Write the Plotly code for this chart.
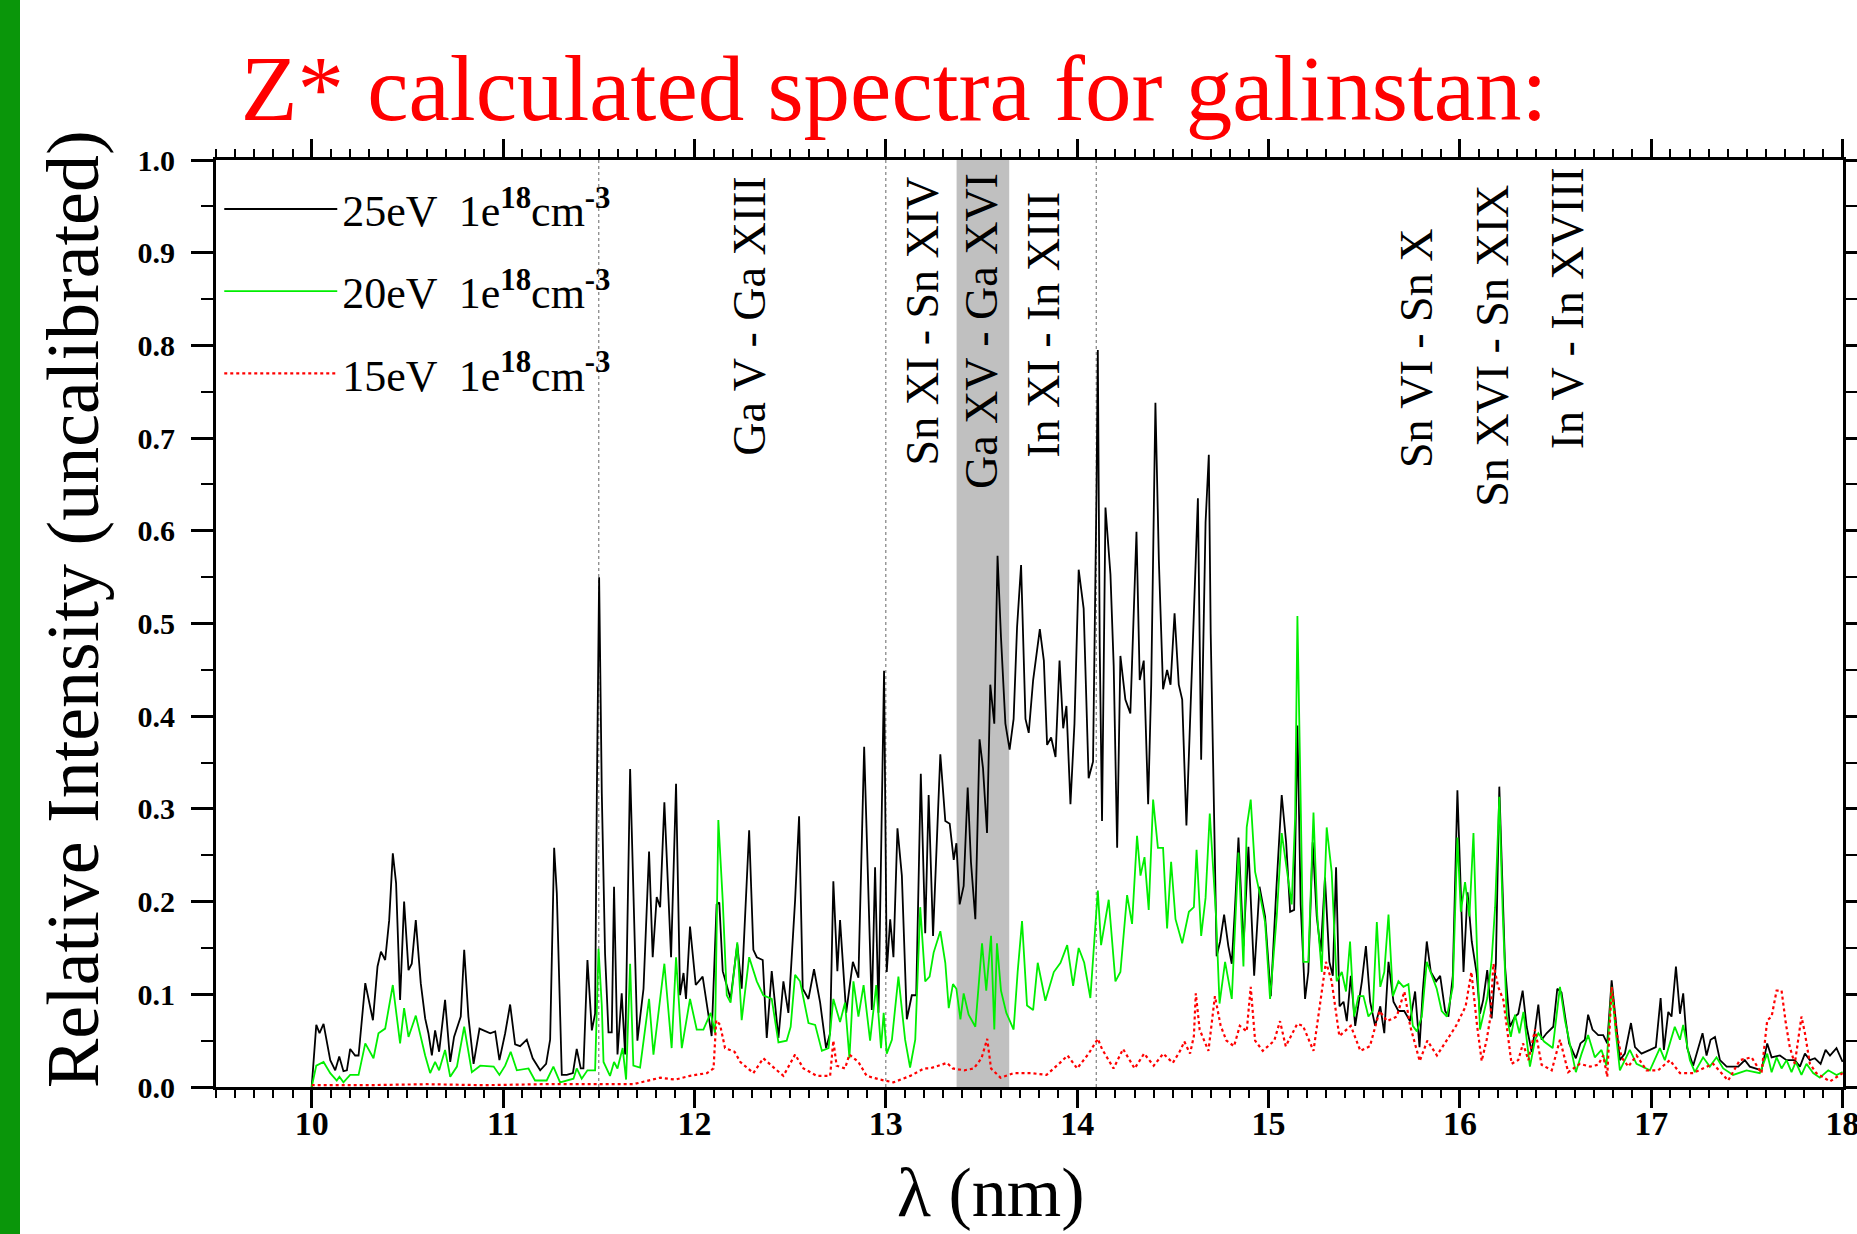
import plotly.graph_objects as go

# ---------------- data ----------------
bk_x = [10.000,10.024,10.041,10.062,10.097,10.123,10.144,10.166,10.184,10.201,10.227,10.245,10.280,10.320,10.344,10.362,10.384,10.405,10.424,10.441,10.462,10.483,10.506,10.523,10.544,10.570,10.593,10.610,10.628,10.645,10.666,10.697,10.724,10.744,10.779,10.797,10.819,10.846,10.877,10.933,10.959,10.981,11.011,11.037,11.063,11.089,11.124,11.155,11.194,11.225,11.246,11.267,11.281,11.307,11.333,11.365,11.385,11.406,11.420,11.441,11.464,11.481,11.490,11.502,11.516,
        11.533,11.551,11.568,11.580,11.598,11.620,11.638,11.664,11.681,11.702,11.734,11.763,11.782,11.803,11.821,11.843,11.878,11.904,11.925,11.943,11.956,11.977,12.007,12.043,12.090,12.116,12.130,12.148,12.189,12.224,12.247,12.286,12.308,12.326,12.357,12.378,12.404,12.439,12.465,12.491,12.526,12.547,12.566,12.596,12.625,12.657,12.688,12.709,12.726,12.747,12.761,12.793,12.828,12.857,12.887,12.909,12.927,12.944,12.962,12.991,
        13.005,13.023,13.040,13.061,13.084,13.110,13.136,13.159,13.183,13.206,13.224,13.247,13.268,13.285,13.311,13.334,13.355,13.369,13.386,13.407,13.428,13.445,13.468,13.490,13.508,13.529,13.546,13.567,13.584,13.602,13.625,13.647,13.668,13.686,13.707,13.730,13.747,13.770,13.805,13.826,13.843,13.864,13.887,13.908,13.927,13.944,13.965,13.986,14.008,14.034,14.060,14.083,14.101,14.108,14.118,14.130,14.148,14.174,14.191,14.209,14.226,14.252,14.278,14.310,14.327,14.348,14.371,14.387,14.409,14.427,14.449,14.470,14.488,14.509,14.531,14.549,14.571,14.592,14.618,14.631,14.648,14.671,14.688,
        14.698,14.712,14.729,14.747,14.768,14.790,14.808,14.825,14.843,14.869,14.895,14.925,14.953,14.982,15.012,15.040,15.069,15.092,15.113,15.134,15.151,15.168,15.191,15.208,15.231,15.252,15.273,15.295,15.318,15.336,15.353,15.371,15.392,15.409,15.430,15.453,15.488,15.509,15.531,15.557,15.584,15.605,15.627,15.653,15.679,15.709,15.740,15.766,15.789,15.806,15.827,15.848,15.876,15.897,15.923,15.940,15.963,15.987,16.001,16.019,16.040,16.062,16.088,
        16.105,16.122,16.143,16.166,16.188,16.206,16.218,16.236,16.261,16.288,16.305,16.328,16.349,16.375,16.393,16.410,16.427,16.453,16.488,16.509,16.531,16.549,16.571,16.606,16.630,16.653,16.670,16.693,16.723,16.749,16.770,16.793,16.810,16.836,16.862,16.894,16.915,16.949,16.993,17.024,17.049,17.066,17.089,17.106,17.129,17.150,17.167,17.188,17.219,17.246,17.268,17.289,17.310,17.333,17.359,17.394,17.455,17.489,17.515,17.576,17.606,17.629,17.672,17.707,17.750,17.777,17.803,17.829,17.855,17.885,17.911,17.934,17.968,18.000]
bk_y = [0.000,0.067,0.058,0.068,0.029,0.018,0.033,0.017,0.018,0.041,0.034,0.034,0.112,0.072,0.130,0.146,0.137,0.180,0.252,0.220,0.094,0.200,0.126,0.133,0.180,0.112,0.074,0.058,0.034,0.061,0.038,0.094,0.027,0.054,0.076,0.148,0.076,0.025,0.063,0.058,0.060,0.029,0.058,0.089,0.046,0.044,0.051,0.031,0.018,0.025,0.051,0.258,0.209,0.013,0.013,0.015,0.041,0.020,0.020,0.137,0.061,0.079,0.313,0.550,0.317,
        0.144,0.059,0.059,0.216,0.035,0.101,0.035,0.343,0.201,0.050,0.106,0.254,0.140,0.205,0.194,0.307,0.140,0.327,0.099,0.123,0.095,0.173,0.110,0.119,0.055,0.197,0.199,0.125,0.095,0.154,0.106,0.277,0.148,0.140,0.137,0.053,0.125,0.053,0.114,0.080,0.201,0.292,0.106,0.095,0.127,0.091,0.042,0.058,0.222,0.125,0.180,0.080,0.135,0.118,0.367,0.209,0.083,0.237,0.080,0.449,
        0.124,0.181,0.140,0.279,0.228,0.073,0.099,0.099,0.338,0.166,0.315,0.163,0.279,0.359,0.287,0.284,0.245,0.263,0.197,0.217,0.323,0.243,0.181,0.375,0.344,0.274,0.434,0.392,0.573,0.485,0.392,0.364,0.397,0.496,0.563,0.397,0.382,0.439,0.494,0.460,0.369,0.377,0.356,0.460,0.387,0.411,0.305,0.392,0.558,0.516,0.333,0.351,0.640,0.795,0.475,0.287,0.625,0.553,0.454,0.258,0.465,0.418,0.403,0.599,0.439,0.460,0.305,0.434,0.738,0.568,0.429,0.450,0.434,0.511,0.434,0.418,0.282,0.403,0.542,0.635,0.353,0.609,0.682,
        0.489,0.334,0.141,0.157,0.186,0.152,0.133,0.194,0.269,0.152,0.259,0.120,0.216,0.184,0.098,0.210,0.315,0.264,0.189,0.191,0.390,0.197,0.095,0.124,0.264,0.184,0.146,0.226,0.135,0.120,0.237,0.087,0.092,0.071,0.120,0.066,0.114,0.152,0.092,0.066,0.087,0.058,0.135,0.092,0.082,0.082,0.071,0.103,0.043,0.103,0.157,0.124,0.114,0.120,0.082,0.076,0.120,0.320,0.232,0.124,0.210,0.157,0.122,
        0.079,0.094,0.126,0.074,0.133,0.324,0.238,0.130,0.065,0.076,0.079,0.104,0.065,0.038,0.062,0.089,0.051,0.058,0.065,0.106,0.102,0.079,0.047,0.031,0.047,0.051,0.078,0.062,0.056,0.056,0.047,0.115,0.083,0.029,0.036,0.069,0.043,0.036,0.040,0.043,0.096,0.040,0.081,0.076,0.130,0.079,0.101,0.042,0.023,0.043,0.058,0.034,0.051,0.054,0.029,0.022,0.022,0.029,0.022,0.018,0.047,0.032,0.034,0.029,0.029,0.022,0.036,0.029,0.031,0.025,0.040,0.034,0.042,0.027]

gr_x = [10.000,10.024,10.062,10.097,10.131,10.145,10.166,10.201,10.245,10.280,10.323,10.349,10.384,10.424,10.462,10.483,10.506,10.544,10.593,10.619,10.645,10.666,10.697,10.724,10.759,10.797,10.837,10.881,10.951,10.981,11.011,11.040,11.072,11.133,11.167,11.228,11.263,11.298,11.368,11.385,11.411,11.441,11.481,11.499,11.516,
        11.525,11.559,11.580,11.598,11.625,11.643,11.664,11.681,11.716,11.763,11.786,11.843,11.881,11.904,11.934,11.977,12.012,12.047,12.085,12.108,12.125,12.148,12.169,12.189,12.224,12.247,12.286,12.326,12.360,12.404,12.439,12.482,12.503,12.526,12.552,12.596,12.631,12.666,12.701,12.726,12.761,12.787,12.810,12.831,12.857,12.884,12.918,12.950,12.975,12.989,
        13.005,13.032,13.066,13.101,13.127,13.154,13.180,13.206,13.229,13.250,13.285,13.311,13.329,13.351,13.369,13.390,13.407,13.433,13.468,13.503,13.525,13.550,13.567,13.581,13.602,13.630,13.668,13.689,13.712,13.738,13.770,13.794,13.834,13.878,13.913,13.948,13.979,14.008,14.037,14.069,14.095,14.108,14.125,14.165,14.200,14.226,14.261,14.287,14.313,14.331,14.352,14.374,14.397,14.422,14.449,14.470,14.491,14.514,14.549,14.584,14.610,14.624,14.648,14.671,14.693,
        14.726,14.744,14.773,14.808,14.843,14.869,14.886,14.907,14.930,14.953,14.982,15.008,15.043,15.069,15.095,15.121,15.139,15.151,15.165,15.182,15.208,15.235,15.255,15.278,15.304,15.330,15.356,15.383,15.405,15.426,15.447,15.470,15.496,15.522,15.545,15.566,15.584,15.605,15.627,15.650,15.679,15.705,15.731,15.754,15.775,15.801,15.827,15.853,15.879,15.905,15.932,15.963,15.987,16.005,16.027,16.050,16.071,16.092,
        16.105,16.143,16.166,16.184,16.206,16.224,16.245,16.266,16.288,16.311,16.332,16.366,16.393,16.410,16.440,16.485,16.523,16.549,16.575,16.606,16.636,16.670,16.705,16.740,16.766,16.793,16.815,16.836,16.888,16.923,16.993,17.045,17.071,17.123,17.150,17.167,17.202,17.228,17.271,17.306,17.341,17.376,17.428,17.498,17.567,17.606,17.629,17.655,17.681,17.707,17.733,17.755,17.785,17.811,17.846,17.881,17.925,17.968,18.000]
gr_y = [0.000,0.023,0.027,0.015,0.007,0.011,0.005,0.013,0.013,0.047,0.031,0.058,0.063,0.110,0.047,0.085,0.054,0.077,0.034,0.015,0.027,0.018,0.040,0.011,0.022,0.065,0.016,0.023,0.022,0.013,0.023,0.038,0.018,0.020,0.007,0.007,0.022,0.005,0.009,0.020,0.009,0.018,0.018,0.149,0.088,
        0.027,0.012,0.027,0.020,0.042,0.008,0.133,0.023,0.021,0.095,0.035,0.133,0.042,0.140,0.042,0.095,0.062,0.062,0.080,0.058,0.288,0.201,0.099,0.091,0.156,0.072,0.140,0.114,0.099,0.095,0.048,0.050,0.065,0.121,0.114,0.069,0.067,0.039,0.042,0.095,0.070,0.091,0.031,0.114,0.076,0.110,0.050,0.110,0.042,0.080,
        0.036,0.051,0.119,0.051,0.021,0.051,0.194,0.114,0.119,0.145,0.168,0.134,0.085,0.111,0.106,0.073,0.101,0.078,0.065,0.155,0.104,0.163,0.062,0.155,0.104,0.080,0.062,0.124,0.179,0.088,0.083,0.134,0.093,0.124,0.134,0.153,0.109,0.150,0.134,0.096,0.179,0.212,0.153,0.202,0.114,0.124,0.207,0.176,0.271,0.228,0.248,0.191,0.310,0.258,0.258,0.171,0.243,0.181,0.155,0.189,0.194,0.256,0.163,0.204,0.295,
        0.184,0.090,0.135,0.095,0.253,0.130,0.280,0.310,0.232,0.210,0.178,0.095,0.184,0.274,0.237,0.197,0.290,0.508,0.345,0.135,0.135,0.296,0.184,0.124,0.280,0.232,0.114,0.124,0.103,0.157,0.076,0.098,0.098,0.076,0.082,0.178,0.108,0.124,0.186,0.098,0.114,0.108,0.111,0.066,0.060,0.076,0.135,0.120,0.106,0.082,0.076,0.108,0.269,0.189,0.221,0.184,0.274,0.130,
        0.062,0.096,0.137,0.194,0.313,0.187,0.076,0.054,0.078,0.058,0.081,0.022,0.051,0.058,0.049,0.042,0.108,0.072,0.047,0.016,0.036,0.056,0.032,0.040,0.023,0.108,0.058,0.018,0.040,0.025,0.018,0.042,0.029,0.065,0.051,0.067,0.029,0.016,0.032,0.022,0.032,0.020,0.013,0.018,0.015,0.036,0.016,0.032,0.020,0.029,0.016,0.027,0.013,0.025,0.015,0.010,0.018,0.013,0.016]

rd_x = [10.000,10.300,10.600,10.900,11.200,11.500,11.681,11.820,11.900,11.977,12.065,12.100,12.114,12.134,12.160,12.210,12.240,12.308,12.360,12.420,12.465,12.526,12.570,12.640,12.709,12.726,12.743,12.787,12.810,12.857,12.900,12.970,13.040,13.128,13.200,13.230,13.320,13.350,13.410,13.460,13.500,13.530,13.550,13.600,13.670,13.760,13.840,13.910,13.950,14.000,14.060,14.108,14.130,14.190,14.240,14.300,14.350,14.400,14.450,14.500,14.538,14.560,14.590,14.610,14.620,14.640,14.670,14.686,14.720,14.750,14.780,14.820,14.850,14.886,14.907,14.930,14.970,15.030,15.060,15.090,15.150,15.180,15.235,15.300,15.330,15.370,15.430,15.480,15.530,15.580,15.620,15.670,15.710,15.740,15.790,15.830,15.880,15.930,15.980,16.030,16.060,16.090,16.114,16.140,16.160,16.175,16.200,16.227,16.253,16.270,16.305,16.330,16.358,16.393,16.427,16.480,16.523,16.566,16.627,16.680,16.723,16.749,16.770,16.793,16.820,16.845,16.880,16.923,16.975,17.036,17.097,17.150,17.219,17.323,17.402,17.463,17.524,17.576,17.606,17.629,17.655,17.681,17.703,17.724,17.750,17.785,17.803,17.829,17.863,17.934,18.000]
rd_y = [0.002,0.002,0.003,0.002,0.003,0.003,0.003,0.010,0.008,0.012,0.015,0.020,0.072,0.067,0.042,0.038,0.027,0.015,0.031,0.020,0.012,0.035,0.020,0.012,0.012,0.050,0.023,0.020,0.035,0.027,0.012,0.008,0.005,0.012,0.020,0.020,0.026,0.020,0.018,0.020,0.031,0.052,0.020,0.010,0.015,0.015,0.013,0.026,0.034,0.020,0.036,0.052,0.041,0.020,0.041,0.020,0.036,0.023,0.036,0.026,0.039,0.049,0.036,0.055,0.101,0.062,0.046,0.039,0.098,0.066,0.050,0.044,0.066,0.060,0.108,0.050,0.039,0.050,0.071,0.044,0.068,0.066,0.039,0.135,0.114,0.055,0.066,0.039,0.044,0.082,0.071,0.076,0.103,0.066,0.028,0.050,0.034,0.050,0.066,0.087,0.124,0.066,0.028,0.051,0.076,0.133,0.108,0.094,0.051,0.025,0.029,0.047,0.029,0.062,0.024,0.018,0.051,0.016,0.025,0.022,0.024,0.034,0.011,0.108,0.058,0.032,0.022,0.034,0.018,0.018,0.029,0.015,0.015,0.025,0.007,0.029,0.032,0.015,0.072,0.076,0.104,0.104,0.069,0.043,0.025,0.076,0.058,0.025,0.015,0.006,0.015]

series_names = ["25eV  1e<sup><b>18</b></sup>cm<sup><b>-3</b></sup>",
                "20eV  1e<sup><b>18</b></sup>cm<sup><b>-3</b></sup>",
                "15eV  1e<sup><b>18</b></sup>cm<sup><b>-3</b></sup>"]

x_ticks = [10, 11, 12, 13, 14, 15, 16, 17, 18]
y_ticks = [0.0, 0.1, 0.2, 0.3, 0.4, 0.5, 0.6, 0.7, 0.8, 0.9, 1.0]

ref_lines = [11.5, 13.0, 14.1]
band = [13.37, 13.645]

ion_labels = ["Ga V - Ga XIII", "Sn XI - Sn XIV", "Ga XV - Ga XVI", "In XI - In XIII",
              "Sn VI - Sn X", "Sn XVI - Sn XIX", "In V - In XVIII"]
ion_x = [12.29, 13.19, 13.50, 13.82, 15.77, 16.17, 16.56]
ion_y = [0.832, 0.826, 0.816, 0.822, 0.797, 0.800, 0.840]

SERIF = "Liberation Serif"

fig = go.Figure()
fig.add_trace(go.Scatter(x=bk_x, y=bk_y, mode="lines", name=series_names[0], legendgroup="a",
                         line=dict(color="black", width=1.8)))
fig.add_trace(go.Scatter(x=gr_x, y=gr_y, mode="lines", name=series_names[1], legendgroup="b",
                         line=dict(color="#00ee00", width=1.8)))
fig.add_trace(go.Scatter(x=rd_x, y=rd_y, mode="lines", name=series_names[2], legendgroup="c",
                         line=dict(color="#ff0000", width=2.2, dash="dot")))

# shaded band and reference lines
fig.add_vrect(x0=band[0], x1=band[1], fillcolor="#c0c0c0", line_width=0, layer="below")
for xv in ref_lines:
    fig.add_vline(x=xv, line=dict(color="#8a8a8a", width=1.3, dash="dot"), layer="below")

for t, xv, yv in zip(ion_labels, ion_x, ion_y):
    fig.add_annotation(x=xv, y=yv, xref="x", yref="y", text=t, textangle=-90, showarrow=False,
                       font=dict(family=SERIF, size=46, color="black"),
                       xanchor="center", yanchor="middle")

W, H = 1857, 1234
L, R, T, B = 216, 14, 160, 147
pw = W - L - R
ph = H - T - B

# axis titles placed as in the original
fig.add_annotation(x=(991 - L) / pw, y=-(1233 - (H - B)) / ph, xref="paper", yref="paper",
                   text="λ (nm)", showarrow=False, xanchor="center", yanchor="bottom",
                   font=dict(family=SERIF, size=70, color="black"))
fig.add_annotation(x=(73 - L) / pw, y=(H - B - 609) / ph, xref="paper", yref="paper",
                   text="Relative Intensity (uncalibrated)", showarrow=False, textangle=-90,
                   xanchor="center", yanchor="middle",
                   font=dict(family=SERIF, size=74, color="black"))

# green bar on the left edge of the page
fig.add_shape(type="rect", xref="paper", yref="paper",
              x0=-L / pw, x1=(20 - L) / pw, y0=-B / ph, y1=1 + T / ph,
              fillcolor="#0a960a", line_width=0, layer="above")

fig.update_layout(
    width=W, height=H,
    margin=dict(l=L, r=R, t=T, b=B, autoexpand=False),
    paper_bgcolor="white", plot_bgcolor="white",
    title=dict(text="Z* calculated spectra for galinstan:", x=(894 - L) / pw, xref="paper",
               xanchor="center", y=1 - 87 / H, yanchor="middle",
               font=dict(family=SERIF, size=93, color="#ff0000")),
    showlegend=True,
    legend=dict(x=0.002, y=0.985, xanchor="left", yanchor="top", bgcolor="rgba(0,0,0,0)",
                font=dict(family=SERIF, size=44, color="black"), tracegroupgap=22,
                itemwidth=113),
    font=dict(family=SERIF, color="black"),
)

fig.update_xaxes(range=[9.5, 18.002], tickvals=x_ticks, ticktext=[str(v) for v in x_ticks],
                 ticks="outside", ticklen=18, tickwidth=2.5, tickcolor="black",
                 showline=True, linewidth=3, linecolor="black", mirror="ticks",
                 showgrid=False, zeroline=False, ticklabeloverflow="allow",
                 tickfont=dict(family=SERIF, size=34, color="black", weight="bold"),
                 ticklabelstandoff=-14,
                 minor=dict(dtick=0.1, tick0=9.5, ticks="outside", ticklen=8, tickwidth=2, tickcolor="black"))
fig.update_yaxes(range=[0, 1.0], tickvals=y_ticks, ticktext=["%.1f" % v for v in y_ticks],
                 ticks="outside", ticklen=22, tickwidth=2.5, tickcolor="black",
                 showline=True, linewidth=3, linecolor="black", mirror="ticks",
                 showgrid=False, zeroline=False,
                 tickfont=dict(family=SERIF, size=30, color="black", weight="bold"),
                 ticklabelstandoff=10,
                 minor=dict(dtick=0.05, tick0=0, ticks="outside", ticklen=12, tickwidth=2, tickcolor="black"))

fig.write_html("out.html")
